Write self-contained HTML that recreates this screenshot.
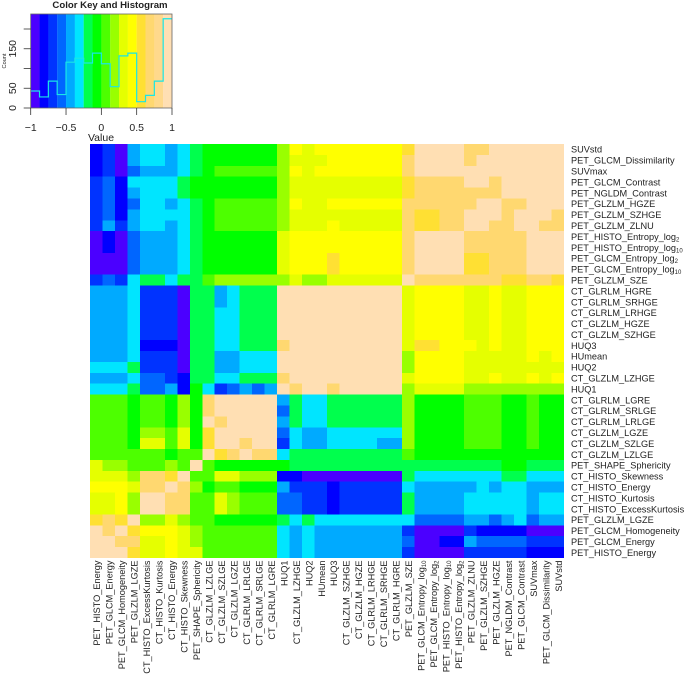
<!DOCTYPE html>
<html>
<head>
<meta charset="utf-8">
<style>
html,body{margin:0;padding:0;background:#fff;width:685px;height:674px;overflow:hidden}
svg{display:block;font-family:"Liberation Sans",sans-serif}
text{fill:#222}
</style>
</head>
<body>
<svg id="chart" xmlns="http://www.w3.org/2000/svg" width="685" height="674" viewBox="0 0 685 674">
<text x="110" y="8" text-anchor="middle" font-size="9.6" font-weight="bold">Color Key and Histogram</text>
<text x="101" y="141" text-anchor="middle" font-size="10.5">Value</text>
<text transform="rotate(-90 6 61)" x="6" y="61" text-anchor="middle" font-size="5.6">Count</text>
<g id="key"></g>
<g id="cells"></g>
<g id="rowLabels"></g>
<g id="colLabels"></g>
</svg>
<script>
const rowNames = ["SUVstd","PET_GLCM_Dissimilarity","SUVmax","PET_GLCM_Contrast","PET_NGLDM_Contrast","PET_GLZLM_HGZE","PET_GLZLM_SZHGE","PET_GLZLM_ZLNU","PET_HISTO_Entropy_log2","PET_HISTO_Entropy_log10","PET_GLCM_Entropy_log2","PET_GLCM_Entropy_log10","PET_GLZLM_SZE","CT_GLRLM_HGRE","CT_GLRLM_SRHGE","CT_GLRLM_LRHGE","CT_GLZLM_HGZE","CT_GLZLM_SZHGE","HUQ3","HUmean","HUQ2","CT_GLZLM_LZHGE","HUQ1","CT_GLRLM_LGRE","CT_GLRLM_SRLGE","CT_GLRLM_LRLGE","CT_GLZLM_LGZE","CT_GLZLM_SZLGE","CT_GLZLM_LZLGE","PET_SHAPE_Sphericity","CT_HISTO_Skewness","CT_HISTO_Energy","CT_HISTO_Kurtosis","CT_HISTO_ExcessKurtosis","PET_GLZLM_LGZE","PET_GLCM_Homogeneity","PET_GLCM_Energy","PET_HISTO_Energy"];
const colNames = rowNames.slice().reverse();
const keyColors = ["#4b00ff","#0000ff","#0033ff","#0066ff","#00aaff","#00e5ff","#00ff4d","#00ff00","#4dff00","#99ff00","#e5ff00","#ffff00","#ffe033","#ffd870","#ffd98c","#ffdfb3"];
const histCounts = [43,28,68,34,116,126,114,139,112,54,132,139,16,32,68,226];
const keyXTicks = [-1,-0.5,0,0.5,1];
const keyXTickLabels = ["−1","−0.5","0","0.5","1"];
const keyYTicks = [0,50,100,150,200];
const keyYTickLabels = ["0","50","","150",""];
/* Pearson correlation x 100, rows top to bottom, columns left to right */
const corrRows = [
[-81,-69,-94,-44,-31,-31,-44,-31,-19,-6,-6,-6,-6,-6,-6,19,44,31,44,44,44,44,44,44,44,56,94,94,94,94,69,69,94,94,94,94,94,94],
[-81,-69,-94,-44,-31,-31,-44,-31,-19,-6,-6,-6,-6,-6,-6,19,31,31,31,44,44,44,44,44,44,69,94,94,94,94,69,94,94,94,94,94,94,94],
[-81,-69,-94,-56,-44,-44,-44,-31,-19,-6,6,6,6,6,6,19,44,31,44,44,44,44,44,44,44,69,94,94,94,94,94,94,94,94,94,94,94,94],
[-69,-56,-81,-31,-31,-31,-31,-19,-6,-6,-6,-6,-6,-6,-6,19,31,31,31,31,31,31,31,31,31,56,69,69,69,69,94,94,69,94,94,94,94,94],
[-69,-56,-81,-44,-31,-31,-31,-19,-6,-6,-6,-6,-6,-6,-6,19,31,31,31,31,31,31,31,31,31,56,69,69,69,69,69,69,69,94,94,94,94,94],
[-69,-56,-81,-56,-31,-31,-44,-31,-19,-6,6,6,6,6,6,19,44,31,31,44,44,44,44,44,44,69,69,69,69,69,69,94,94,69,69,94,94,94],
[-69,-56,-81,-44,-31,-31,-31,-31,-19,-6,6,6,6,6,6,19,31,31,31,31,31,31,31,31,31,69,56,56,69,69,94,94,94,69,94,94,94,69],
[-69,-44,-69,-44,-31,-31,-44,-31,-19,-6,6,6,6,6,6,19,31,31,31,44,31,31,31,31,31,69,56,56,69,69,94,94,69,69,94,94,69,69],
[-94,-81,-94,-56,-44,-44,-44,-31,-19,-6,-6,-6,-6,-6,-6,31,44,44,44,44,44,44,44,44,44,69,94,94,94,94,69,69,69,69,69,94,94,94],
[-94,-81,-94,-56,-44,-44,-44,-31,-19,-6,-6,-6,-6,-6,-6,31,44,44,44,44,44,44,44,44,44,69,94,94,94,94,69,69,69,69,69,94,94,94],
[-94,-94,-94,-56,-44,-44,-44,-31,-19,-6,-6,-6,-6,-6,-6,31,44,44,44,56,44,44,44,44,44,69,94,94,94,94,56,56,69,69,69,94,94,94],
[-94,-94,-94,-56,-44,-44,-44,-31,-19,-6,-6,-6,-6,-6,-6,31,44,44,44,56,44,44,44,44,44,69,94,94,94,94,56,56,69,69,69,94,94,94],
[-69,-56,-69,-31,-19,-19,-31,-19,-19,6,19,19,19,19,19,19,31,19,19,31,31,31,31,31,31,94,69,69,69,69,69,69,69,56,56,69,69,56],
[-44,-44,-44,-31,-69,-69,-69,-94,-19,-19,-44,-31,-19,-19,-19,94,94,94,94,94,94,94,94,94,94,31,44,44,44,44,31,31,44,31,31,44,44,44],
[-44,-44,-44,-31,-69,-69,-69,-94,-19,-19,-44,-31,-19,-19,-19,94,94,94,94,94,94,94,94,94,94,31,44,44,44,44,31,31,44,31,31,44,44,44],
[-44,-44,-44,-31,-69,-69,-69,-94,-19,-19,-31,-31,-19,-19,-19,94,94,94,94,94,94,94,94,94,94,31,44,44,44,44,31,31,44,31,31,44,44,44],
[-44,-44,-44,-31,-69,-69,-69,-94,-19,-19,-31,-31,-19,-19,-19,94,94,94,94,94,94,94,94,94,94,31,44,44,44,44,31,31,44,31,31,44,44,44],
[-44,-44,-44,-31,-69,-69,-69,-94,-19,-19,-31,-31,-19,-19,-19,94,94,94,94,94,94,94,94,94,94,31,44,44,44,44,31,31,44,31,31,44,44,44],
[-44,-44,-44,-31,-81,-81,-81,-94,-19,-19,-31,-31,-19,-19,-19,69,94,94,94,94,94,94,94,94,94,31,56,56,44,44,44,31,44,31,31,44,44,44],
[-44,-44,-44,-31,-69,-69,-69,-94,-19,-19,-44,-44,-31,-31,-31,94,94,94,94,94,94,94,94,94,94,19,44,44,44,44,31,31,31,31,31,44,31,44],
[-31,-31,-31,-19,-69,-69,-69,-94,-19,-19,-44,-44,-31,-31,-31,94,94,94,94,94,94,94,94,94,94,19,44,44,44,44,31,31,31,31,31,31,31,31],
[-44,-44,-44,-31,-56,-56,-69,-81,-19,-19,-31,-31,-19,-19,-19,69,94,94,94,94,94,94,94,94,94,31,44,44,44,44,31,31,44,31,31,44,31,44],
[-31,-31,-31,-19,-56,-56,-44,-81,-6,-31,-69,-56,-44,-56,-44,94,69,94,94,69,94,94,94,94,94,19,31,31,31,31,19,19,19,19,19,19,19,19],
[6,6,6,-6,6,6,-6,19,-6,69,94,94,94,94,94,-44,-19,-31,-31,-19,-19,-19,-19,-19,-19,19,-6,-6,-6,-6,6,6,6,-6,-6,6,-6,-6],
[6,6,6,-6,6,6,-6,19,-6,69,94,94,94,94,94,-56,-19,-31,-31,-19,-19,-19,-19,-19,-19,19,-6,-6,-6,-6,6,6,6,-6,-6,6,-6,-6],
[6,6,6,-6,6,6,-6,19,-6,94,69,94,94,94,94,-44,-19,-31,-31,-19,-19,-19,-19,-19,-19,19,-6,-6,-6,-6,6,6,6,-6,-6,6,-6,-6],
[6,6,6,-6,19,19,6,31,-6,56,94,94,94,94,94,-56,-31,-44,-44,-31,-31,-31,-31,-31,-31,19,-6,-6,-6,-6,6,6,6,-6,-6,6,-6,-6],
[6,6,6,-6,31,31,6,31,-6,56,94,94,69,94,94,-69,-31,-44,-44,-31,-31,-31,-31,-44,-44,19,-6,-6,-6,-6,6,6,6,-6,-6,6,-6,-6],
[6,6,6,6,6,6,-6,6,6,94,56,69,94,69,69,-31,-19,-19,-19,-19,-19,-19,-19,-19,-19,6,-6,-6,-6,-6,-6,-6,-6,-6,-6,-6,-6,-6],
[31,19,19,6,6,6,19,6,94,6,-6,-6,-6,-6,-6,-6,-19,-19,-19,-19,-19,-19,-19,-19,-19,-19,-19,-19,-19,-19,-19,-19,-19,-6,-6,-19,-19,-19],
[31,31,31,19,69,69,56,94,6,6,31,31,19,19,19,-81,-81,-94,-94,-94,-94,-94,-94,-94,-94,-19,-31,-31,-31,-31,-31,-31,-31,-19,-19,-31,-31,-31],
[44,44,44,31,69,69,94,69,19,-6,6,6,-6,-6,-6,-44,-69,-69,-69,-81,-69,-69,-69,-69,-69,-31,-44,-44,-44,-44,-44,-31,-44,-31,-31,-44,-44,-44],
[31,31,44,19,94,94,69,69,6,6,31,19,6,6,6,-56,-56,-69,-69,-81,-69,-69,-69,-69,-69,-19,-44,-44,-44,-44,-31,-31,-31,-31,-31,-44,-31,-31],
[31,31,44,19,94,94,69,69,6,6,31,19,6,6,6,-56,-56,-69,-69,-81,-69,-69,-69,-69,-69,-19,-44,-44,-44,-44,-31,-31,-31,-31,-31,-44,-31,-31],
[56,69,56,94,19,19,31,19,6,6,-6,-6,-6,-6,-6,-19,-31,-19,-31,-31,-31,-31,-31,-31,-31,-31,-56,-56,-56,-56,-44,-44,-56,-44,-31,-56,-44,-44],
[94,69,94,56,44,44,44,31,19,6,6,6,6,6,6,-31,-44,-31,-44,-44,-44,-44,-44,-44,-44,-69,-94,-94,-94,-94,-69,-81,-81,-81,-81,-94,-94,-94],
[94,94,69,69,31,31,44,31,19,6,6,6,6,6,6,-31,-44,-31,-44,-44,-44,-44,-44,-44,-44,-56,-94,-94,-81,-81,-44,-56,-56,-56,-56,-69,-69,-69],
[94,94,94,56,31,31,44,31,31,6,6,6,6,6,6,-31,-44,-31,-44,-44,-44,-44,-44,-44,-44,-69,-94,-94,-94,-94,-69,-69,-69,-69,-69,-81,-81,-81]
];

const NS = "http://www.w3.org/2000/svg";
const plot = {left: 90, top: 144, width: 474, height: 414};
const keyBox = {left: 30.7, right: 172, top: 14, bottom: 108};
const labelSize = "9.2";
const xCell = c => plot.left + c * plot.width / colNames.length;
const yCell = r => plot.top + r * plot.height / rowNames.length;
const keyX = v => keyBox.left + (v + 1) / 2 * (keyBox.right - keyBox.left);
const keyY = n => keyBox.bottom - n * 0.395;
const binOf = v => Math.max(0, Math.min(keyColors.length - 1, Math.floor((v + 1) / 2 * keyColors.length)));
const make = (tag, attrs, parent) => {
  const el = document.createElementNS(NS, tag);
  for (const k in attrs) el.setAttribute(k, attrs[k]);
  parent.appendChild(el);
  return el;
};
const addLabel = (el, name) => {
  const m = name.match(/^(.*_log)(2|10)$/);
  if (m) {
    el.appendChild(document.createTextNode(m[1]));
    const sub = document.createElementNS(NS, "tspan");
    sub.setAttribute("font-size", "6");
    sub.setAttribute("dy", "1.5");
    sub.textContent = m[2];
    el.appendChild(sub);
  } else {
    el.textContent = name;
  }
};

const cellsG = document.getElementById("cells");
corrRows.forEach((row, r) => {
  row.forEach((v, c) => {
    const rect = make("rect", {x: xCell(c), y: yCell(r), width: plot.width / colNames.length + 0.1, height: plot.height / rowNames.length + 0.1, fill: keyColors[binOf(v / 100)], "shape-rendering": "crispEdges"}, cellsG);
    
    
  });
});

const rowG = document.getElementById("rowLabels");
rowNames.forEach((name, r) => {
  const t = make("text", {x: 571, y: yCell(r) + plot.height / rowNames.length / 2 + 3.3, "font-size": labelSize}, rowG);
  addLabel(t, name);
  
  
});

const colG = document.getElementById("colLabels");
colNames.forEach((name, c) => {
  const x = xCell(c) + plot.width / colNames.length / 2 + 4;
  const y = 560.5;
  const t = make("text", {x: x, y: y, "font-size": labelSize, "text-anchor": "end", transform: "rotate(-90 " + x + " " + y + ")"}, colG);
  addLabel(t, name);
  
  
});

const keyG = document.getElementById("key");
keyColors.forEach((col, i) => {
  const v0 = -1 + i * 2 / keyColors.length;
  const v1 = -1 + (i + 1) * 2 / keyColors.length;
  const band = make("rect", {x: keyX(v0), y: keyBox.top, width: keyX(v1) - keyX(v0) + 0.1, height: keyBox.bottom - keyBox.top, fill: col}, keyG);
  
  
});

let histPath = "";
histCounts.forEach((n, i) => {
  const x0 = keyX(-1 + i * 2 / histCounts.length);
  const x1 = keyX(-1 + (i + 1) * 2 / histCounts.length);
  histPath += (i === 0 ? "M" : "L") + x0 + " " + keyY(n) + "L" + x1 + " " + keyY(n);
});
const histLine = make("path", {d: histPath, fill: "none", stroke: "#19e6e6", "stroke-width": "1.2"}, keyG);



const frame = make("rect", {x: keyBox.left, y: keyBox.top, width: keyBox.right - keyBox.left, height: keyBox.bottom - keyBox.top, fill: "none", stroke: "#666", "stroke-width": "0.8"}, keyG);



keyXTicks.forEach((v, i) => {
  const x = keyX(v);
  const tick = make("line", {x1: x, x2: x, y1: keyBox.bottom, y2: keyBox.bottom + 7, stroke: "#333", "stroke-width": "0.8"}, keyG);
  
  
  const t = make("text", {x: x, y: 131, "font-size": "10.5", "text-anchor": "middle"}, keyG);
  t.textContent = keyXTickLabels[i];
  
  
});

keyYTicks.forEach((n, i) => {
  const y = keyY(n);
  const tick = make("line", {x1: keyBox.left - 7, x2: keyBox.left, y1: y, y2: y, stroke: "#333", "stroke-width": "0.8"}, keyG);
  
  
  if (keyYTickLabels[i]) {
    const t = make("text", {x: 16, y: y, "font-size": "10.5", "text-anchor": "middle", transform: "rotate(-90 16 " + y + ")"}, keyG);
    t.textContent = keyYTickLabels[i];
    
    
  }
});
</script>
</body>
</html>
